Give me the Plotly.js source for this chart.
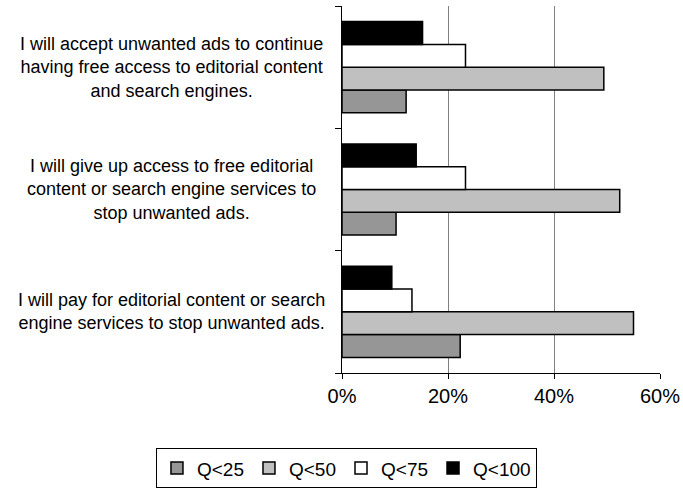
<!DOCTYPE html>
<html>
<head>
<meta charset="utf-8">
<script src="https://cdn.plot.ly/plotly-3.0.1.min.js"></script>
<style>
  html, body { margin: 0; padding: 0; background: #fff; }
  #chart { width: 683px; height: 494px; }
</style>
</head>
<body>
<div id="chart"></div>
<script>
// Statements, listed bottom-to-top as they sit on the category axis
const categories = [
  "I will pay for editorial content or search<br>engine services to stop unwanted ads.",
  "I will give up access to free editorial<br>content or search engine services to<br>stop unwanted ads.",
  "I will accept unwanted ads to continue<br>having free access to editorial content<br>and search engines."
];

// Share of respondents (%) per quartile group
const q25  = [22.3, 10.2, 12.1];
const q50  = [55.0, 52.4, 49.4];
const q75  = [13.2, 23.3, 23.3];
const q100 = [9.4, 14.0, 15.2];

const seriesNames  = ["Q<25", "Q<50", "Q<75", "Q<100"];
const seriesValues = [q25, q50, q75, q100];
const seriesColors = ["#969696", "#c0c0c0", "#ffffff", "#000000"];

const xTicks = [0, 20, 40, 60];
const xTickText = ["0%", "20%", "40%", "60%"];

const traces = seriesNames.map((name, i) => ({
  type: "bar",
  orientation: "h",
  name: name,
  x: seriesValues[i],
  y: categories,
  marker: { color: seriesColors[i], line: { color: "#000", width: 1.5 } },
  hoverinfo: "x+name"
}));

// Centered multi-line statement labels to the left of the plot
const labelAnnotations = categories.map(c => ({
  xref: "paper", yref: "y",
  x: -0.535, y: c,
  text: c,
  showarrow: false,
  xanchor: "center", yanchor: "middle",
  align: "center",
  font: { family: "Liberation Sans, Arial, sans-serif", size: 18, color: "#000" }
}));

const layout = {
  width: 683, height: 494,
  margin: { l: 342, r: 23, t: 6, b: 117 },
  paper_bgcolor: "#fff",
  plot_bgcolor: "#fff",
  barmode: "group",
  bargap: 0.255,
  bargroupgap: 0,
  font: { family: "Liberation Sans, Arial, sans-serif", color: "#000" },
  xaxis: {
    range: [0, 60],
    tickvals: xTicks,
    ticktext: xTickText,
    ticks: "outside",
    ticklen: 5,
    tickcolor: "#000",
    showline: true,
    linecolor: "#000",
    linewidth: 1,
    showgrid: true,
    gridcolor: "#808080",
    gridwidth: 1,
    zeroline: false,
    tickfont: { size: 20 },
    fixedrange: true
  },
  yaxis: {
    type: "category",
    categoryorder: "array",
    categoryarray: categories,
    showticklabels: false,
    ticks: "outside",
    tickson: "boundaries",
    ticklen: 6,
    tickcolor: "#000",
    showline: true,
    linecolor: "#000",
    linewidth: 1,
    showgrid: false,
    zeroline: false,
    fixedrange: true
  },
  showlegend: true,
  legend: {
    orientation: "h",
    xref: "paper", yref: "paper",
    x: -0.585, xanchor: "left",
    y: -0.205, yanchor: "top",
    traceorder: "normal",
    bordercolor: "#000",
    borderwidth: 1,
    bgcolor: "#fff",
    font: { size: 19 },
    itemwidth: 30,
    tracegroupgap: 0
  },
  annotations: labelAnnotations
};

Plotly.newPlot("chart", traces, layout, { displayModeBar: false, staticPlot: true });
</script>
</body>
</html>
